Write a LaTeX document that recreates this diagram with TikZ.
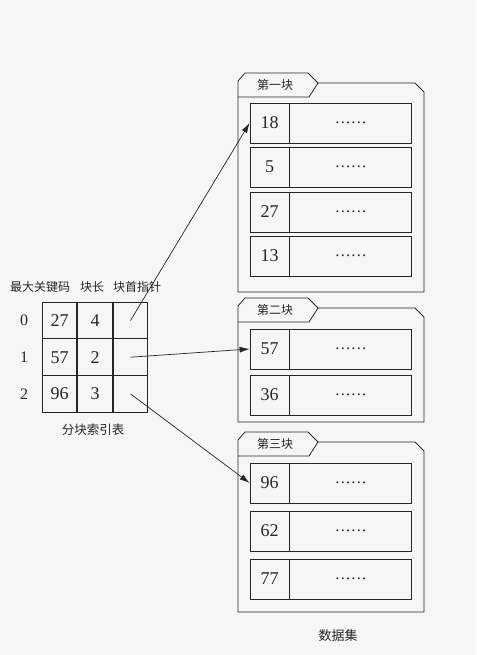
\documentclass[tikz,border=0pt]{standalone}
\usepackage{fontspec}
\setmainfont{Liberation Serif}
\newfontfamily\cjk{Noto Sans CJK SC}
\usetikzlibrary{positioning,arrows.meta}

\tikzset{
  keycell/.style={draw, minimum width=39pt, minimum height=40pt, inner sep=0pt, font=\fontsize{18}{18}\selectfont},
  valcell/.style={draw, minimum width=122pt, minimum height=40pt, inner sep=0pt, font=\fontsize{16}{16}\selectfont},
  idxcell/.style={draw, minimum width=34.7pt, minimum height=36.7pt, inner sep=0pt, font=\fontsize{18}{18}\selectfont},
  cjktext/.style={font=\cjk\fontsize{12}{12}\selectfont},
  ptr/.style={-{Latex[length=10pt,width=6pt]}, line width=0.7pt},
}

\begin{document}
\begin{tikzpicture}[x=1pt, y=-1pt, color=black!85, line width=0.8pt]
    % 背景 (纸张颜色)
    \fill[gray!7] (0,0) rectangle (476,655);
    \useasboundingbox (0,0) rectangle (476,655);

    % --- 数据集: 三个块的外框 ---
    \foreach \t/\b/\name in {73/292/第一块, 298/422/第二块, 432/612/第三块} {
        \draw (238,\b) -- (238,\t+8) -- (245,\t) -- (308,\t) -- (318,\t+10)
              -- (415,\t+10) -- (424,\t+19) -- (424,\b) -- cycle;
        \draw (238,\t+24) -- (309,\t+24) -- (318,\t+10);
        \node[cjktext] at (275,\t+12) {\name};
    }

    % 块内记录 (关键码 + 其余数据)
    \foreach \k/\y in {18/123, 5/167, 27/212, 13/256, 57/349, 36/395, 96/483, 62/531, 77/579} {
        \node[keycell] (k\k) at (269.5,\y) {\k};
        \node[valcell, right=0pt of k\k] (v\k) {\raisebox{-2pt}{\ldots\ldots}};
    }
    \node[cjktext, font=\cjk\fontsize{13}{13}\selectfont] (dataset) at (338,636) {数据集};

    % --- 分块索引表 ---
    \node[cjktext] (hkey) at (40,287) {最大关键码};
    \node[cjktext] (hlen) at (92,287) {块长};
    \node[cjktext] (hptr) at (137,287) {块首指针};

    \foreach \r/\key/\len in {0/27/4, 1/57/2, 2/96/3} {
        \node[idxcell] (key\r) at (59.5, 320.5+36.7*\r) {\key};
        \node[idxcell, right=0pt of key\r] (len\r) {\len};
        \node[idxcell, right=0pt of len\r] (ptr\r) {};
        \node[font=\fontsize{16}{16}\selectfont, left=10pt of key\r] (row\r) {\r};
    }
    \node[cjktext, font=\cjk\fontsize{12.5}{12.5}\selectfont] (idxcap) at (93,430) {分块索引表};

    % --- 块首指针 -> 各块第一个记录 ---
    \draw[ptr] (ptr0.center) -- (k18.west);
    \draw[ptr] (ptr1.center) -- (k57.west);
    \draw[ptr] (ptr2.center) -- (k96.west);

\end{tikzpicture}
\end{document}
